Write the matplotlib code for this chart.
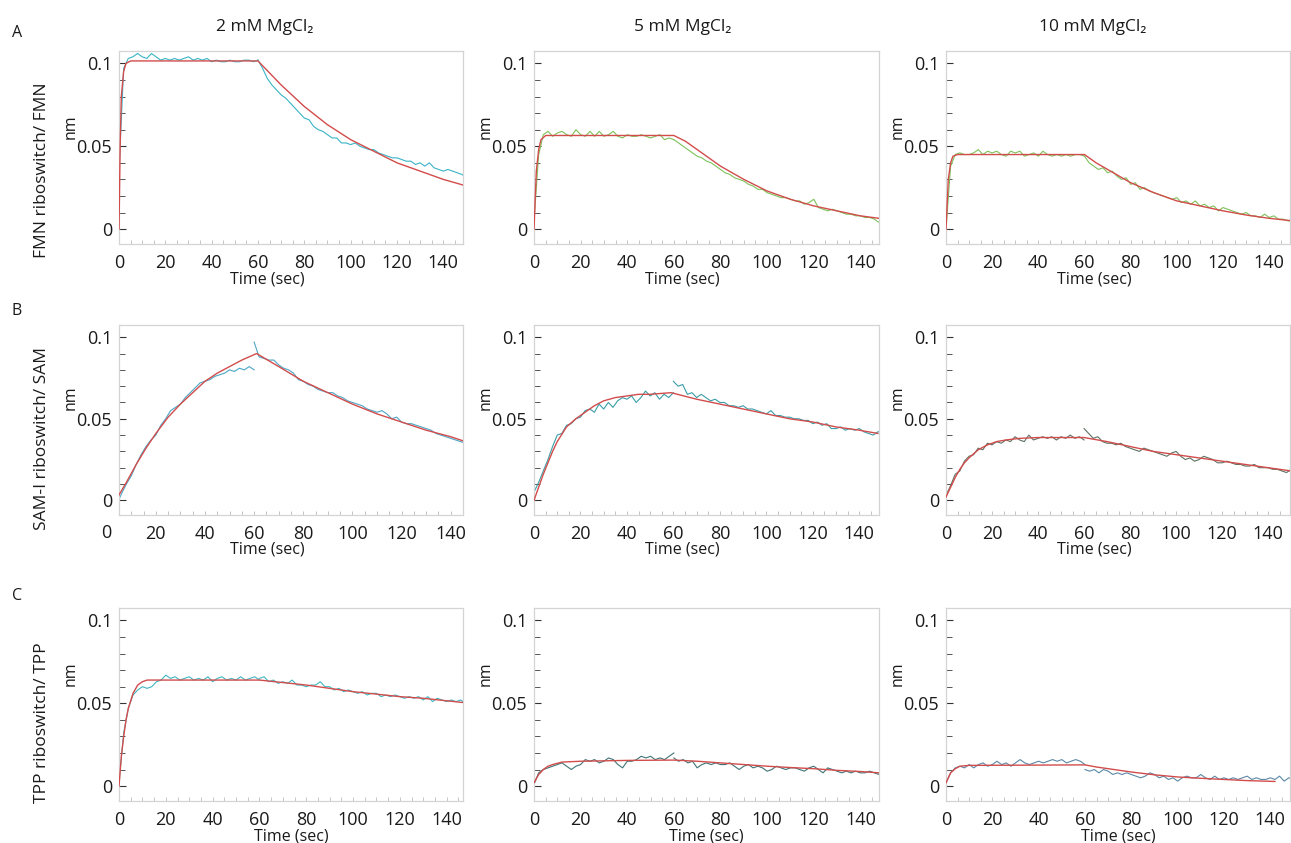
import numpy as np
import matplotlib
matplotlib.use("Agg")
import matplotlib.pyplot as plt
from matplotlib.ticker import MultipleLocator, FixedLocator
import matplotlib.transforms as mtransforms

plt.rcParams['font.family'] = ['Open Sans', 'DejaVu Sans']

# ---------------- labels ----------------
col_titles = ["2 mM MgCl\u2082", "5 mM MgCl\u2082", "10 mM MgCl\u2082"]
row_letters = ["A", "B", "C"]
row_labels = ["FMN riboswitch/ FMN", "SAM-I riboswitch/ SAM", "TPP riboswitch/ TPP"]
x_ticks = [0, 20, 40, 60, 80, 100, 120, 140]
y_ticks = [0, 0.05, 0.1]
y_tick_labels = ["0", "0.05", "0.1"]

# ---------------- sampling times of the traces (sec) ----------------
t_assoc = np.arange(0, 61, 2)      # association phase
t_dissoc = np.arange(60, 151, 2)   # dissociation phase

# ---------------- row A : FMN riboswitch / FMN ----------------
fmn2_assoc = [0.035, 0.097, 0.103, 0.104, 0.106, 0.104, 0.103, 0.106, 0.104, 0.102, 0.103,
              0.102, 0.103, 0.102, 0.103, 0.104, 0.102, 0.103, 0.102, 0.103, 0.101,
              0.102, 0.101, 0.101, 0.102, 0.101, 0.101, 0.102, 0.102, 0.101, 0.102]
fmn2_dissoc = [0.102, 0.097, 0.091, 0.087, 0.084, 0.081, 0.079, 0.076, 0.073, 0.070, 0.067,
               0.066, 0.062, 0.060, 0.059, 0.057, 0.055, 0.055, 0.052, 0.052, 0.051,
               0.052, 0.050, 0.049, 0.048, 0.048, 0.046, 0.045, 0.044, 0.043, 0.043,
               0.042, 0.041, 0.041, 0.039, 0.040, 0.038, 0.040, 0.037, 0.036, 0.035,
               0.036, 0.035, 0.034, 0.033, 0.031]
fmn2_fit_t = [0, 0.5, 1, 2, 3, 5, 60, 70, 80, 90, 100, 110, 120, 130, 140, 150]
fmn2_fit = [0, 0.05, 0.08, 0.095, 0.100, 0.1015, 0.1015, 0.087, 0.074, 0.063, 0.054,
            0.047, 0.040, 0.035, 0.030, 0.026]

fmn5_assoc = [0.005, 0.045, 0.057, 0.059, 0.056, 0.058, 0.059, 0.057, 0.056, 0.060, 0.057,
              0.056, 0.059, 0.056, 0.059, 0.056, 0.057, 0.059, 0.056, 0.055, 0.057,
              0.056, 0.056, 0.057, 0.056, 0.055, 0.056, 0.057, 0.054, 0.055, 0.054]
fmn5_dissoc = [0.054, 0.052, 0.050, 0.048, 0.046, 0.044, 0.043, 0.041, 0.040, 0.038, 0.036,
               0.034, 0.033, 0.031, 0.030, 0.029, 0.027, 0.026, 0.024, 0.024, 0.022,
               0.021, 0.020, 0.019, 0.019, 0.018, 0.017, 0.017, 0.015, 0.016, 0.018,
               0.013, 0.012, 0.011, 0.012, 0.011, 0.010, 0.009, 0.009, 0.008, 0.008,
               0.007, 0.007, 0.006, 0.004, 0.004]
fmn5_fit_t = [0, 1, 2, 3, 5, 60, 65, 70, 80, 90, 100, 110, 120, 130, 140, 148]
fmn5_fit = [0, 0.035, 0.048, 0.054, 0.0565, 0.0565, 0.053, 0.048, 0.038, 0.030, 0.023,
            0.018, 0.014, 0.011, 0.008, 0.0065]

fmn10_assoc = [0.000, 0.038, 0.045, 0.046, 0.045, 0.045, 0.046, 0.048, 0.045, 0.047, 0.046,
               0.047, 0.045, 0.044, 0.047, 0.046, 0.047, 0.044, 0.045, 0.046, 0.044,
               0.047, 0.045, 0.044, 0.045, 0.044, 0.045, 0.044, 0.045, 0.045, 0.044]
fmn10_dissoc = [0.044, 0.040, 0.038, 0.036, 0.037, 0.034, 0.035, 0.032, 0.030, 0.031, 0.027,
                0.028, 0.024, 0.025, 0.023, 0.022, 0.021, 0.020, 0.019, 0.018, 0.019,
                0.016, 0.017, 0.015, 0.017, 0.014, 0.015, 0.013, 0.014, 0.011, 0.013,
                0.012, 0.011, 0.010, 0.009, 0.010, 0.008, 0.008, 0.007, 0.009, 0.007,
                0.008, 0.006, 0.006, 0.005, 0.005]
fmn10_fit_t = [0, 1, 2, 3, 5, 60, 65, 70, 80, 90, 100, 110, 120, 130, 140, 150]
fmn10_fit = [0, 0.030, 0.040, 0.044, 0.045, 0.045, 0.040, 0.036, 0.028, 0.022, 0.017,
             0.014, 0.011, 0.0085, 0.0065, 0.005]

# ---------------- row B : SAM-I riboswitch / SAM ----------------
sam2_assoc = [np.nan, np.nan, -0.003, 0.004, 0.010, 0.015, 0.022, 0.028, 0.033, 0.037, 0.040,
              0.046, 0.050, 0.055, 0.057, 0.059, 0.063, 0.066, 0.069, 0.072, 0.073,
              0.074, 0.076, 0.077, 0.078, 0.080, 0.079, 0.081, 0.080, 0.082, 0.080]
sam2_dissoc = [0.097, 0.088, 0.087, 0.086, 0.086, 0.083, 0.081, 0.080, 0.078, 0.074, 0.073,
               0.071, 0.070, 0.068, 0.067, 0.066, 0.066, 0.064, 0.063, 0.061, 0.060,
               0.059, 0.058, 0.056, 0.055, 0.054, 0.055, 0.053, 0.050, 0.051, 0.048,
               0.047, 0.047, 0.046, 0.045, 0.044, 0.043, 0.041, 0.040, 0.039, 0.038,
               0.037, 0.036, 0.035, 0.035, 0.034]
sam2_fit_t = [4.5, 8, 12, 16, 20, 25, 30, 35, 40, 45, 50, 55, 61, 70, 80, 90, 100, 110,
              120, 130, 140, 146]
sam2_fit = [0.002, 0.011, 0.022, 0.032, 0.041, 0.051, 0.059, 0.066, 0.073, 0.078, 0.082,
            0.086, 0.090, 0.082, 0.073, 0.066, 0.059, 0.053, 0.048, 0.043, 0.039, 0.036]

sam5_assoc = [0.005, 0.011, 0.018, 0.025, 0.033, 0.040, 0.041, 0.046, 0.047, 0.050, 0.051,
              0.055, 0.056, 0.054, 0.059, 0.056, 0.060, 0.057, 0.061, 0.063, 0.062,
              0.064, 0.060, 0.063, 0.067, 0.064, 0.066, 0.062, 0.065, 0.063, 0.066]
sam5_dissoc = [0.073, 0.070, 0.071, 0.065, 0.066, 0.063, 0.065, 0.063, 0.061, 0.062, 0.060,
               0.060, 0.058, 0.058, 0.057, 0.058, 0.056, 0.056, 0.055, 0.054, 0.053,
               0.055, 0.052, 0.052, 0.051, 0.051, 0.050, 0.050, 0.049, 0.049, 0.047,
               0.048, 0.046, 0.047, 0.044, 0.044, 0.045, 0.043, 0.044, 0.043, 0.044,
               0.042, 0.041, 0.040, 0.042, 0.042]
sam5_fit_t = [0, 2, 4, 6, 8, 10, 14, 18, 22, 26, 30, 35, 40, 45, 50, 59, 70, 80, 90, 100,
              110, 120, 130, 140, 148]
sam5_fit = [0.0, 0.008, 0.016, 0.023, 0.030, 0.036, 0.045, 0.050, 0.054, 0.058, 0.061,
            0.063, 0.064, 0.065, 0.065, 0.066, 0.062, 0.059, 0.056, 0.053, 0.050, 0.048,
            0.045, 0.043, 0.041]

sam10_assoc = [0.003, 0.009, 0.016, 0.018, 0.024, 0.027, 0.028, 0.032, 0.031, 0.035, 0.034,
               0.036, 0.035, 0.037, 0.036, 0.039, 0.037, 0.036, 0.040, 0.037, 0.038,
               0.039, 0.038, 0.039, 0.037, 0.039, 0.038, 0.040, 0.038, 0.039, 0.037]
sam10_dissoc = [0.044, 0.041, 0.038, 0.039, 0.036, 0.035, 0.035, 0.034, 0.035, 0.033, 0.032,
                0.031, 0.030, 0.032, 0.031, 0.030, 0.029, 0.028, 0.027, 0.029, 0.030,
                0.027, 0.025, 0.026, 0.024, 0.025, 0.027, 0.026, 0.025, 0.023, 0.023,
                0.024, 0.023, 0.022, 0.022, 0.021, 0.021, 0.022, 0.020, 0.020, 0.020,
                0.019, 0.019, 0.018, 0.017, 0.019]
sam10_fit_t = [0, 2, 4, 6, 8, 10, 14, 18, 22, 26, 32, 40, 60, 70, 80, 90, 100, 110, 120,
               130, 140, 150]
sam10_fit = [0.002, 0.008, 0.014, 0.019, 0.023, 0.026, 0.031, 0.034, 0.036, 0.037, 0.038,
             0.0385, 0.0385, 0.036, 0.033, 0.030, 0.028, 0.026, 0.024, 0.022, 0.020, 0.018]

# ---------------- row C : TPP riboswitch / TPP ----------------
tpp2_assoc = [0.002, 0.032, 0.047, 0.055, 0.058, 0.060, 0.059, 0.060, 0.063, 0.064, 0.067,
              0.065, 0.066, 0.064, 0.065, 0.066, 0.064, 0.065, 0.064, 0.066, 0.063,
              0.065, 0.066, 0.064, 0.065, 0.064, 0.066, 0.064, 0.065, 0.066, 0.064]
tpp2_dissoc = [0.065, 0.066, 0.063, 0.064, 0.062, 0.063, 0.062, 0.064, 0.061, 0.061, 0.060,
               0.061, 0.061, 0.063, 0.060, 0.060, 0.058, 0.059, 0.057, 0.058, 0.057,
               0.056, 0.057, 0.055, 0.056, 0.056, 0.054, 0.055, 0.054, 0.055, 0.054,
               0.053, 0.054, 0.053, 0.054, 0.052, 0.054, 0.051, 0.053, 0.052, 0.051,
               0.052, 0.051, 0.052, 0.050, 0.051]
tpp2_fit_t = [0, 1, 2, 3, 4, 6, 8, 10, 12, 60, 70, 80, 90, 100, 110, 120, 130, 140, 150]
tpp2_fit = [0, 0.018, 0.030, 0.040, 0.047, 0.056, 0.061, 0.063, 0.064, 0.064, 0.0625,
            0.061, 0.059, 0.057, 0.0555, 0.054, 0.053, 0.0515, 0.050]

tpp5_assoc = [0.001, 0.008, 0.010, 0.011, 0.012, 0.013, 0.014, 0.012, 0.010, 0.012, 0.013,
              0.016, 0.015, 0.016, 0.014, 0.015, 0.017, 0.016, 0.013, 0.011, 0.015,
              0.015, 0.016, 0.018, 0.017, 0.018, 0.016, 0.017, 0.016, 0.018, 0.020]
tpp5_dissoc = [0.017, 0.015, 0.016, 0.014, 0.015, 0.011, 0.013, 0.014, 0.013, 0.014, 0.013,
               0.013, 0.014, 0.012, 0.010, 0.012, 0.013, 0.011, 0.012, 0.011, 0.009,
               0.010, 0.012, 0.011, 0.010, 0.011, 0.011, 0.010, 0.009, 0.011, 0.012,
               0.010, 0.008, 0.011, 0.010, 0.009, 0.008, 0.009, 0.008, 0.009, 0.008,
               0.008, 0.009, 0.008, 0.007, 0.008]
tpp5_fit_t = [0, 2, 4, 6, 8, 12, 20, 40, 60, 70, 80, 90, 100, 110, 120, 130, 140, 148]
tpp5_fit = [0.002, 0.007, 0.010, 0.012, 0.013, 0.0145, 0.015, 0.0155, 0.0157, 0.015,
            0.014, 0.013, 0.012, 0.0112, 0.0105, 0.0095, 0.0088, 0.008]

tpp10_assoc = [0.002, 0.008, 0.011, 0.012, 0.011, 0.013, 0.011, 0.013, 0.014, 0.012, 0.013,
               0.015, 0.013, 0.014, 0.012, 0.014, 0.016, 0.014, 0.013, 0.014, 0.015,
               0.014, 0.015, 0.016, 0.015, 0.016, 0.014, 0.015, 0.016, 0.015, 0.013]
tpp10_dissoc = [0.010, 0.009, 0.010, 0.008, 0.010, 0.009, 0.007, 0.008, 0.007, 0.008, 0.007,
                0.006, 0.005, 0.006, 0.008, 0.007, 0.005, 0.006, 0.004, 0.005, 0.003,
                0.005, 0.006, 0.005, 0.005, 0.007, 0.005, 0.004, 0.006, 0.004, 0.005,
                0.004, 0.005, 0.004, 0.005, 0.006, 0.004, 0.005, 0.004, 0.004, 0.005,
                0.004, 0.006, 0.003, 0.005, 0.004]
tpp10_fit_t = [0, 2, 4, 6, 10, 60, 65, 70, 75, 80, 90, 100, 110, 120, 130, 142]
tpp10_fit = [0.002, 0.008, 0.0105, 0.012, 0.0125, 0.0128, 0.0115, 0.0105, 0.0095, 0.0085,
             0.0068, 0.0055, 0.0047, 0.004, 0.0033, 0.0028]

panels = [
    [(fmn2_assoc, fmn2_dissoc, fmn2_fit_t, fmn2_fit),
     (fmn5_assoc, fmn5_dissoc, fmn5_fit_t, fmn5_fit),
     (fmn10_assoc, fmn10_dissoc, fmn10_fit_t, fmn10_fit)],
    [(sam2_assoc, sam2_dissoc, sam2_fit_t, sam2_fit),
     (sam5_assoc, sam5_dissoc, sam5_fit_t, sam5_fit),
     (sam10_assoc, sam10_dissoc, sam10_fit_t, sam10_fit)],
    [(tpp2_assoc, tpp2_dissoc, tpp2_fit_t, tpp2_fit),
     (tpp5_assoc, tpp5_dissoc, tpp5_fit_t, tpp5_fit),
     (tpp10_assoc, tpp10_dissoc, tpp10_fit_t, tpp10_fit)],
]

trace_colors = [["#3ab4c6", "#7cc25a", "#7cc25a"],
                ["#4aa6c6", "#3a9ea8", "#5d7263"],
                ["#40b6c2", "#3f7476", "#5b88a6"]]
fit_color = "#d24c4c"

# ---------------- layout (pixels of a 1291x843 canvas) ----------------
W, H = 1291, 843
fig = plt.figure(figsize=(W / 100, H / 100), dpi=100)
col_px = [(119, 344), (534, 345), (946, 344)]
row_px = [(51, 193), (325, 190), (608, 193)]
xlims = [[(0, 148.5), (0, 148), (0, 149)],
         [(5, 145), (0, 148.5), (0, 149.5)],
         [(0, 147), (0, 148), (0, 148.5)]]
nm_y = [0.61, 0.62, 0.66]
xlabel_x = [0.43, 0.43, 0.5]

for r in range(3):
    for c in range(3):
        lx, w = col_px[c]
        ty, h = row_px[r]
        ax = fig.add_axes([lx / W, 1 - (ty + h) / H, w / W, h / H])
        assoc, dissoc, ft, fv = panels[r][c]
        col = trace_colors[r][c]
        ax.plot(t_assoc, assoc, color=col, lw=0.8, zorder=2)
        ax.plot(t_dissoc, dissoc, color=col, lw=0.8, zorder=2)
        ax.plot(ft, fv, color=fit_color, lw=1.0, zorder=3)
        ax.set_xlim(*xlims[r][c])
        ax.set_ylim(-0.009, 0.1075)
        ax.xaxis.set_major_locator(FixedLocator(x_ticks))
        ax.xaxis.set_minor_locator(MultipleLocator(5))
        ax.yaxis.set_major_locator(FixedLocator(y_ticks))
        ax.set_yticklabels(y_tick_labels)
        ax.yaxis.set_minor_locator(MultipleLocator(0.01))
        ax.tick_params(axis='y', which='major', direction='in', length=5, width=0.8,
                       color='#333333', labelsize=13, pad=5, labelcolor='#1a1a1a')
        ax.tick_params(axis='y', which='minor', direction='in', length=4, width=0.7,
                       color='#555555')
        ax.tick_params(axis='x', which='major', direction='in', length=3, width=0.6,
                       color='#bbbbbb', labelsize=13, pad=7, labelcolor='#1a1a1a')
        ax.tick_params(axis='x', which='minor', direction='in', length=3, width=0.6,
                       color='#bbbbbb')
        for sp in ax.spines.values():
            sp.set_color('#d4d4d4')
            sp.set_linewidth(0.9)
        ax.set_xlabel("Time (sec)", fontsize=11.5, color='#1a1a1a')
        ax.xaxis.set_label_coords(xlabel_x[r], -0.14)
        ax.set_ylabel("nm", fontsize=11.5, color='#1a1a1a')
        ax.yaxis.set_label_coords(-0.118, nm_y[r])
        if xlims[r][c][0] > 0:
            trans = mtransforms.blended_transform_factory(ax.transData, ax.transAxes)
            ax.text(0, -0.045, "0", transform=trans, ha='center', va='top',
                    fontsize=13, color='#1a1a1a', clip_on=False)

# column titles
for c, title in enumerate(col_titles):
    cx = [265, 683, 1093][c]
    fig.text(cx / W, 1 - 27 / H, title, ha='center', va='center', fontsize=12.5,
             color='#1a1a1a')

# row letters and row labels
for r in range(3):
    fig.text(17 / W, 1 - [33, 311, 596][r] / H, row_letters[r], ha='center',
             va='center', fontsize=11.5, color='#1a1a1a')
    fig.text(42 / W, 1 - [170, 438, 723][r] / H, row_labels[r], ha='center',
             va='center', rotation=90, fontsize=12.5, color='#1a1a1a')

fig.savefig("out.png", dpi=100)
